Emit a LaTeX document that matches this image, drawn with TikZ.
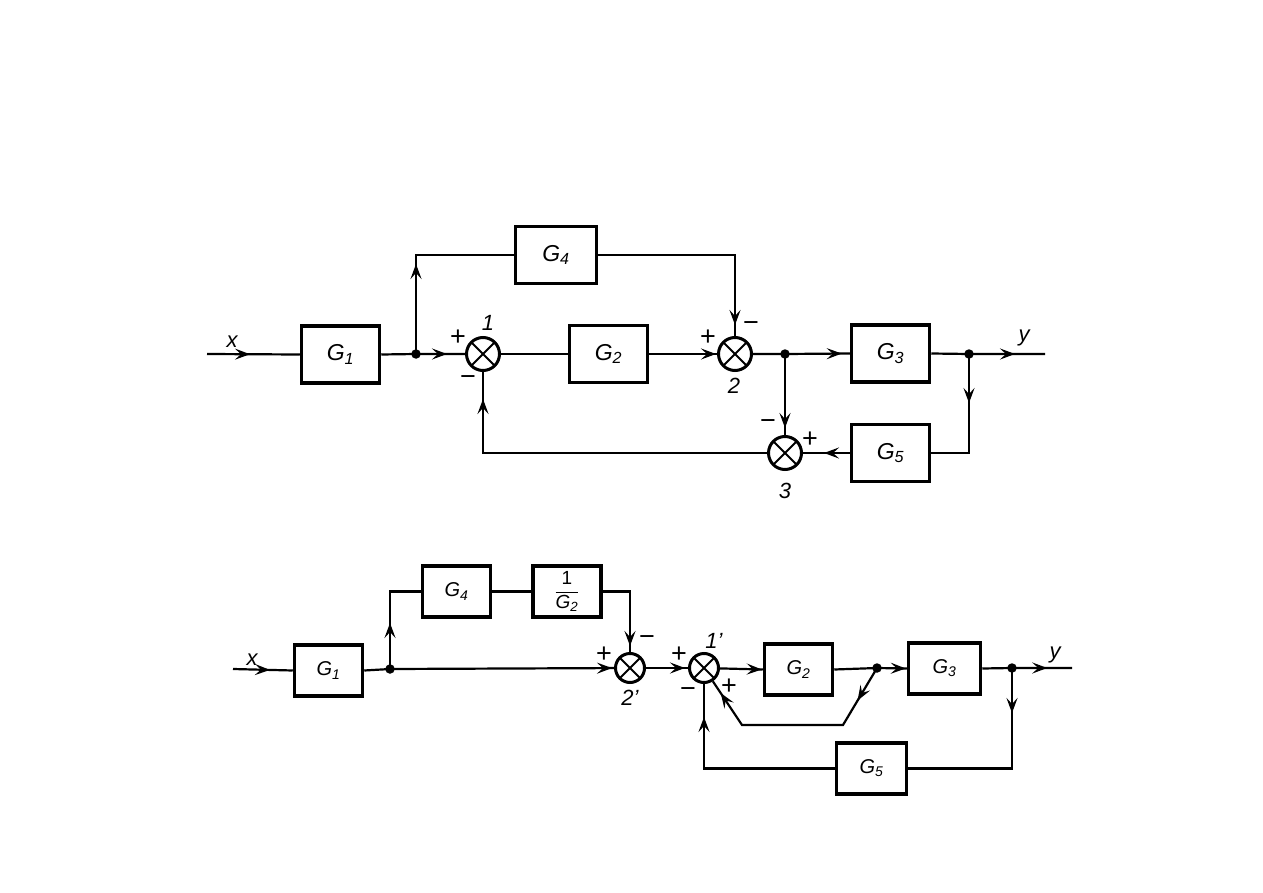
\documentclass[tikz,border=0pt]{standalone}
\usepackage{fontspec}
\setmainfont{Liberation Sans}
\usetikzlibrary{arrows.meta,decorations.markings}
\begin{document}
\begin{tikzpicture}[x=1pt,y=-1pt,
  conn/.style={line width=2.2pt},
  blk/.style={draw, line width=3.5pt, minimum width=78pt, minimum height=57pt, inner sep=0pt, font=\fontsize{23}{26}\selectfont\itshape},
  sblk/.style={draw, line width=3.5pt, minimum width=68pt, minimum height=51pt, inner sep=0pt, font=\fontsize{20}{24}\selectfont\itshape},
  sum/.style={circle, draw, line width=3pt, minimum size=#1, inner sep=0pt,
    path picture={\draw[line width=2pt] (path picture bounding box.north west) -- (path picture bounding box.south east)
      (path picture bounding box.north east) -- (path picture bounding box.south west);}},
  sum/.default=33pt,
  dot/.style={circle, fill, inner sep=0pt, minimum size=9.5pt},
  arrowat/.style={postaction={decorate, decoration={markings, mark=at position #1 with {\arrow{Stealth[length=15pt,width=11pt,inset=6pt]}}}}},
  lbl/.style={font=\fontsize{22}{26}\selectfont\itshape, inner sep=0pt},
  sgn/.style={font=\fontsize{27}{30}\selectfont, inner sep=0pt},
]
\path[use as bounding box, fill=white] (0,0) rectangle (1263,893);

% ---------------- top diagram ----------------
\node[blk] (G1t) at (340.5,354.5) {G\textsubscript{1}};
\node[blk, minimum width=81pt] (G4t) at (556,255) {G\textsubscript{4}};
\node[blk] (G2t) at (608.5,354) {G\textsubscript{2}};
\node[blk] (G3t) at (890.5,353.5) {G\textsubscript{3}};
\node[blk] (G5t) at (890.5,453) {G\textsubscript{5}};
\node[sum] (S1) at (483,354) {};
\node[sum] (S2) at (735,354) {};
\node[sum] (S3) at (785,453) {};
\node[dot] (J1) at (416,354) {};
\node[dot] (J2) at (785,354) {};
\node[dot] (J3) at (969,354) {};
\coordinate (xin) at (207,354);
\coordinate (yout) at (1045,354);

\draw[conn, arrowat=43pt] (xin) -- (G1t.west);
\draw[conn, arrowat=-18pt] (G1t.east) -- (J1.center) -- (S1);
\draw[conn, arrowat=90pt] (J1.center) |- (G4t.west);
\draw[conn, arrowat=-11pt] (G4t.east) -| (S2);
\draw[conn] (S1) -- (G2t.west);
\draw[conn, arrowat=-1pt] (G2t.east) -- (S2);
\draw[conn, arrowat=-8pt] (S2) -- (J2.center) -- (G3t.west);
\draw[conn, arrowat=-7pt] (J2.center) -- (S3);
\draw[conn, arrowat=-30pt] (G3t.east) -- (J3.center) -- (yout);
\draw[conn, arrowat=49pt] (J3.center) |- (G5t.east);
\draw[conn, arrowat=-21pt] (G5t.west) -- (S3);
\draw[conn, arrowat=-27pt] (S3) -| (S1);

\node[lbl] at (232,342) {x};
\node[lbl] at (1024,338) {y};
\node[sgn] at (458,338) {+};
\node[sgn] at (468,381) {−};
\node[lbl] at (488,323) {1};
\node[sgn] at (708,338) {+};
\node[sgn] at (751,327) {−};
\node[lbl] at (734,386) {2};
\node[sgn] at (768,425) {−};
\node[sgn] at (810,440) {+};
\node[lbl] at (785,491) {3};

% ---------------- bottom diagram ----------------
\node[sblk] (G1b) at (328.5,670.5) {G\textsubscript{1}};
\node[sblk] (G4b) at (456.5,591.5) {G\textsubscript{4}};
\node[sblk, font=\fontsize{19}{22}\selectfont] (Fb) at (567,591.5) {$\displaystyle\frac{\mbox{1}}{\mbox{\itshape G\textsubscript{2}}}$};
\node[sblk] (G2b) at (798.5,669.5) {G\textsubscript{2}};
\node[sblk, minimum width=72pt] (G3b) at (944.5,668.5) {G\textsubscript{3}};
\node[sblk, minimum width=70pt] (G5b) at (871.5,768.5) {G\textsubscript{5}};
\node[sum=29pt] (S2b) at (630,668) {};
\node[sum=29pt] (S1b) at (704,668) {};
\node[dot] (J1b) at (390,669) {};
\node[dot] (J2b) at (877,668) {};
\node[dot] (J3b) at (1012,668) {};
\coordinate (xinb) at (233,669);
\coordinate (youtb) at (1072,668);
\coordinate (d1) at (843,725);
\coordinate (d2) at (742,725);

\draw[conn, arrowat=37pt] (xinb) -- (G1b.west);
\draw[conn, arrowat=-2pt] (G1b.east) -- (J1b.center) -- (S2b);
\draw[conn, arrowat=46pt] (J1b.center) |- (G4b.west);
\draw[conn] (G4b.east) -- (Fb.west);
\draw[conn, arrowat=-6pt] (Fb.east) -| (S2b);
\draw[conn, arrowat=-3pt] (S2b) -- (S1b);
\draw[conn, arrowat=-1pt] (S1b) -- (G2b.west);
\draw[conn, arrowat=-1pt] (G2b.east) -- (J2b.center) -- (G3b.west);
\draw[conn, arrowat=38pt, arrowat=-14pt] (J2b.center) -- (d1) -- (d2) -- (S1b);
\draw[conn, arrowat=65pt] (G3b.east) -- (J3b.center) -- (youtb);
\draw[conn, arrowat=45pt] (J3b.center) |- (G5b.east);
\draw[conn, arrowat=-33pt] (G5b.west) -| (S1b);

\node[lbl] at (252,660) {x};
\node[lbl] at (1055,655) {y};
\node[sgn] at (604,655) {+};
\node[sgn] at (647,641) {−};
\node[lbl] at (630,698) {2'};
\node[sgn] at (679,655) {+};
\node[lbl] at (714,641) {1'};
\node[sgn] at (688,693) {−};
\node[sgn] at (729,687) {+};
\end{tikzpicture}
\end{document}
